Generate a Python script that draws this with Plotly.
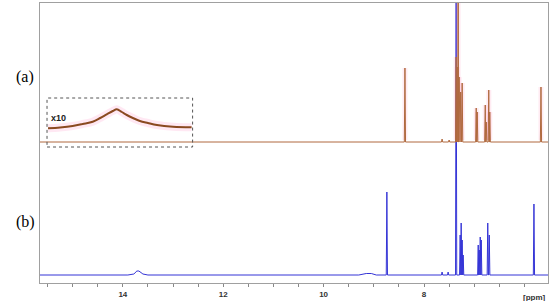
#!/usr/bin/env python3
"""
Stacked 1H NMR spectra (a) / (b) with a x10 inset of the broad low-field signal.
"""

import plotly.graph_objects as go

# --- spectrum (a): sharp signals, ppm and height above baseline
a_peak_ppm = [8.38, 7.64, 7.50, 7.36, 7.34, 7.32, 7.30, 7.27, 7.24, 6.96, 6.94, 6.78, 6.76, 6.71, 6.69, 5.67]
a_peak_int = [74, 3, 2, 85, 75, 300, 65, 50, 59, 34, 30, 37, 20, 52, 30, 55]

# x10 expansion of the broad signal around 14.1 ppm (spectrum a)
inset_ppm = [15.49, 15.25, 15.00, 14.80, 14.60, 14.45, 14.32, 14.20, 14.12, 14.02, 13.92, 13.80, 13.66, 13.50, 13.32, 13.00, 12.63]
inset_int = [13.7, 14.5, 16.0, 18.0, 20.3, 24.0, 27.7, 31.0, 32.7, 30.0, 27.0, 24.0, 21.0, 19.0, 17.0, 15.3, 14.7]

# --- spectrum (b)
b_peak_ppm = [8.74, 7.64, 7.52, 7.36, 7.28, 7.26, 7.24, 7.22, 6.92, 6.90, 6.88, 6.86, 6.73, 6.70, 5.81]
b_peak_int = [83, 3, 3, 300, 40, 52, 35, 20, 30, 25, 38, 35, 52, 40, 71]

# broad exchangeable signals in (b)
b_broad_ppm = [13.90, 13.78, 13.72, 13.68, 13.60, 13.50, 9.30, 9.15, 9.05, 8.95]
b_broad_int = [0, 1, 4, 4, 1, 0, 0, 1.5, 1.5, 0]

x_range = [15.65, 5.53]
tick_vals = [15.5, 15, 14.5, 14, 13.5, 13, 12.5, 12, 11.5, 11, 10.5, 10, 9.5, 9, 8.5, 8, 7.5, 7, 6.5, 6]
tick_labels = {14: "14", 12: "12", 10: "10", 8: "8"}

RED = "#b0693e"
BLUE = "#3434d6"


def stick_trace(ppm, inten, extra_ppm=None, extra_int=None, lo=15.65, hi=5.53, w=0.012):
    """Expand a peak list into a line: baseline -> apex -> baseline"""
    pts = [(lo, 0), (hi, 0)]
    for p, h in zip(ppm, inten):
        pts += [(p + w, 0), (p, h), (p - w, 0)]
    if extra_ppm:
        pts += list(zip(extra_ppm, extra_int))
    pts.sort(key=lambda t: -t[0])
    return [p[0] for p in pts], [p[1] for p in pts]


def glow_trace(ppm, inten):
    """Vertical segments only (no baseline) for the pink halo"""
    xs, ys = [], []
    for p, h in zip(ppm, inten):
        if h < 10:
            continue
        xs += [p, p, None]
        ys += [2, h, None]
    return xs, ys


def main():
    fig = go.Figure()

    # spectrum (b) - blue, on y
    bx, by = stick_trace(b_peak_ppm, b_peak_int, b_broad_ppm, b_broad_int)
    fig.add_trace(go.Scatter(x=bx, y=by, mode="lines", line=dict(color=BLUE, width=1),
                             yaxis="y", hoverinfo="skip"))

    # spectrum (a) - red/brown, on y2 (offset panel)
    gx, gy = glow_trace(a_peak_ppm, a_peak_int)
    fig.add_trace(go.Scatter(x=gx, y=gy, mode="lines",
                             line=dict(color="rgba(255,120,170,0.15)", width=5),
                             yaxis="y2", hoverinfo="skip"))
    ax_, ay = stick_trace(a_peak_ppm, a_peak_int)
    fig.add_trace(go.Scatter(x=ax_, y=ay, mode="lines", line=dict(color=RED, width=1),
                             yaxis="y2", hoverinfo="skip"))

    # inset x10
    fig.add_trace(go.Scatter(x=inset_ppm, y=inset_int, mode="lines",
                             line=dict(color="rgba(255,150,200,0.22)", width=8, shape="spline"),
                             yaxis="y2", hoverinfo="skip"))
    fig.add_trace(go.Scatter(x=inset_ppm, y=inset_int, mode="lines",
                             line=dict(color="#8a4a20", width=2, shape="spline"),
                             yaxis="y2", hoverinfo="skip"))

    fig.add_shape(type="rect", xref="x", yref="y2", x0=15.51, x1=12.61, y0=-5, y1=44,
                  line=dict(color="#555555", width=1, dash="dot"))
    fig.add_annotation(x=15.47, y=24, xref="x", yref="y2", text="<b>x10</b>", showarrow=False,
                       xanchor="left", font=dict(family="Arial", size=9, color="#222222"))

    # panel labels
    for txt, yy, yref in [("(a)", 65, "y2"), ("(b)", 53, "y")]:
        fig.add_annotation(x=-0.052, y=yy, xref="paper", yref=yref, text=txt, showarrow=False,
                           font=dict(family="Liberation Serif", size=16, color="#000000"))

    fig.add_annotation(x=1.0, y=-0.03, xref="paper", yref="paper", text="<b>[ppm]</b>",
                       showarrow=False, xanchor="right", yanchor="top",
                       font=dict(family="Arial", size=8, color="#333333"))

    fig.update_layout(
        width=550, height=301,
        margin=dict(l=40, r=2, t=3, b=18),
        plot_bgcolor="white", paper_bgcolor="white",
        showlegend=False,
        xaxis=dict(range=x_range, tickvals=tick_vals,
                   ticktext=[tick_labels.get(v, "") for v in tick_vals],
                   ticks="outside", ticklen=3, tickcolor="#888888",
                   showline=True, linecolor="#a0a0a0", mirror=True, showgrid=False,
                   zeroline=False,
                   tickfont=dict(family="Arial", size=8, color="#333333", weight="bold")),
        yaxis=dict(range=[-8, 272], showticklabels=False, showgrid=False, zeroline=False,
                   showline=True, linecolor="#a0a0a0", mirror=True, ticks=""),
        yaxis2=dict(range=[-141, 139], overlaying="y", showticklabels=False, showgrid=False,
                    zeroline=False, showline=False, ticks=""),
    )

    # the page body has a default 8px margin; drop it so the figure sits at 0,0
    fig.write_html("out.html", config={"displayModeBar": False},
                   post_script="document.body.style.margin='0';")
    return 0


if __name__ == '__main__':
    main()
